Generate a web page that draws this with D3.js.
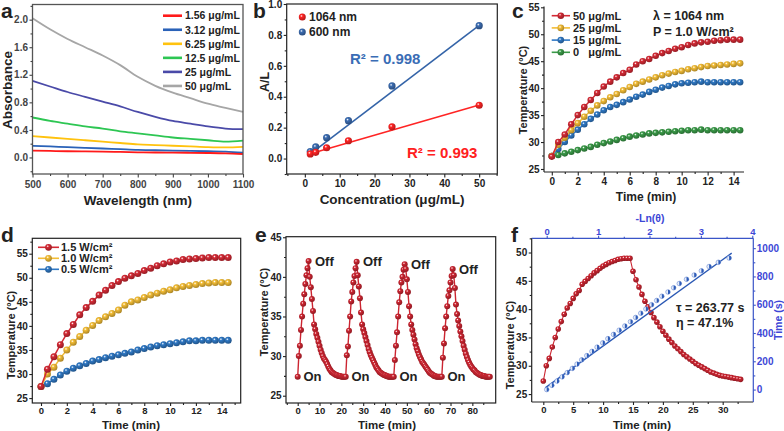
<!DOCTYPE html>
<html><head><meta charset="utf-8">
<script src="https://cdn.jsdelivr.net/npm/d3@7"></script>
<style>body{margin:0;background:#fff}svg{display:block}</style>
</head><body><svg id="chart" width="784" height="431"></svg>
<script>
// ================= DATA =================
// Panel a: absorbance spectra
const wavelengths = [500,550,600,650,700,750,800,850,900,950,1000,1050,1100];
const concLabels = ['1.56 μg/mL','3.12 μg/mL','6.25 μg/mL','12.5 μg/mL','25 μg/mL','50 μg/mL'];
const abs156 = [0.10,0.095,0.09,0.088,0.085,0.08,0.075,0.072,0.07,0.068,0.065,0.06,0.05];
const abs312 = [0.17,0.16,0.15,0.14,0.13,0.12,0.11,0.105,0.10,0.095,0.09,0.085,0.07];
const abs625 = [0.31,0.29,0.27,0.25,0.23,0.21,0.19,0.18,0.17,0.16,0.15,0.145,0.155];
const abs125 = [0.58,0.53,0.49,0.45,0.42,0.38,0.35,0.32,0.29,0.27,0.25,0.23,0.245];
const abs25  = [1.11,1.03,0.95,0.88,0.81,0.74,0.66,0.59,0.53,0.49,0.45,0.42,0.41];
const abs50  = [2.02,1.86,1.72,1.60,1.48,1.34,1.17,1.04,0.94,0.86,0.78,0.72,0.66];

// Panel b: A/L vs concentration
const concB = [1.56,3.12,6.25,12.5,25,50];
const al1064 = [0.03,0.04,0.07,0.115,0.205,0.345];
const al600  = [0.045,0.075,0.135,0.245,0.47,0.86];
const fit1064 = [[1.3,0.03],[50,0.346]];
const fit600  = [[1.3,0.025],[50,0.862]];

// Panel c/d: heating curves
const timeGrid = [0,0.5,1,1.5,2,2.5,3,3.5,4,4.5,5,5.5,6,6.5,7,7.5,8,8.5,9,9.5,10,10.5,11,11.5,12,12.5,13,13.5,14,14.5];
const c50 = [27.3,30.0,31.4,33.3,35.0,36.5,37.8,39.1,40.3,41.2,42.0,42.8,43.4,44.4,45.0,45.4,46.0,46.5,46.9,47.3,47.6,48.0,48.3,48.5,48.6,48.8,48.9,49.0,49.0,49.0];
const c25 = [27.4,29.5,30.8,32.2,33.5,34.7,35.8,36.8,37.6,38.3,38.9,39.6,40.2,40.8,41.2,41.6,42.0,42.4,42.7,43.0,43.2,43.5,43.7,43.9,44.1,44.2,44.3,44.4,44.5,44.6];
const c15 = [27.4,28.7,30.0,31.2,32.3,33.3,34.3,35.1,35.9,36.5,36.9,37.4,37.9,38.4,38.8,39.3,39.7,40.1,40.4,40.7,40.9,41.0,41.1,41.2,41.1,41.1,41.1,41.1,41.1,41.1];
const c0  = [27.4,27.6,27.9,28.2,28.5,28.8,29.1,29.5,29.8,30.1,30.4,30.7,31.0,31.2,31.4,31.6,31.7,31.8,31.9,32.0,32.1,32.2,32.2,32.3,32.2,32.2,32.2,32.2,32.2,32.2];
const cLabels = ['50 μg/mL','25 μg/mL','15 μg/mL','0\u00a0\u00a0\u00a0μg/mL'];

const d15 = [27.4,31.0,33.6,36.1,38.4,40.3,42.3,43.8,45.1,46.4,47.4,48.4,49.2,49.9,50.4,50.9,51.5,52.0,52.5,52.9,53.3,53.5,53.8,53.9,54.0,54.1,54.2,54.2,54.2,54.2];
const d10 = [27.4,30.0,31.4,33.3,35.0,36.6,37.8,39.1,40.1,41.1,41.9,42.6,43.3,44.3,45.0,45.4,45.9,46.4,46.8,47.2,47.5,47.9,48.2,48.4,48.6,48.8,48.9,49.0,49.0,49.0];
const d05 = [27.4,28.0,28.9,29.8,30.6,31.2,31.7,32.2,32.7,33.0,33.4,33.7,34.0,34.3,34.6,35.0,35.3,35.6,35.9,36.1,36.3,36.5,36.7,36.9,36.9,37.0,37.0,37.0,37.0,37.0];
const dLabels = ['1.5 W/cm²','1.0 W/cm²','0.5 W/cm²'];

// Panel e: on/off cycles (0.5 min sampling)
const eStep = 0.5;
const eTemps = [
 // cycle 1
 27.4,30.0,31.3,33.3,35.0,36.6,37.8,39.1,40.2,41.1,42.0,
 40.0,38.7,37.2,35.7,34.0,33.4,32.8,32.3,31.8,31.3,30.8,30.4,30.0,29.7,29.5,29.3,29.0,28.7,28.4,28.2,28.0,27.9,27.8,27.7,27.6,27.6,27.5,27.5,27.5,27.4,27.4,27.4,27.4,
 // cycle 2
 27.4,30.1,31.2,33.2,35.0,36.9,38.1,39.3,40.1,41.1,41.9,
 40.2,38.8,37.3,35.5,34.0,33.4,32.9,32.4,31.9,31.4,30.9,30.5,30.1,29.8,29.5,29.2,28.9,28.6,28.4,28.2,28.0,27.9,27.8,27.7,27.6,27.6,27.5,27.5,27.4,27.4,27.4,27.4,27.4,
 // cycle 3
 27.4,29.5,31.3,33.0,35.0,36.8,38.2,39.3,40.0,40.9,41.6,
 41.0,39.7,38.1,36.3,35.0,34.0,33.3,32.7,32.1,31.5,31.0,30.6,30.2,29.9,29.6,29.3,29.1,28.9,28.7,28.5,28.3,28.1,27.9,27.8,27.7,27.6,27.5,27.5,27.4,27.4,27.4,27.4,27.4,
 // cycle 4
 27.4,29.8,31.6,33.5,35.0,36.3,37.6,38.3,39.3,40.1,41.0,
 40.2,38.6,36.5,35.3,34.5,33.8,33.1,32.5,31.9,31.3,30.8,30.3,29.9,29.5,29.2,28.9,28.7,28.5,28.3,28.2,28.0,27.9,27.8,27.7,27.6,27.6,27.5,27.5,27.5,27.4,27.4,27.4,27.4,
 27.4
];
const eOnTimes = [0,22,44,66];
const eOffTimes = [5,27,49,71];

// Panel f: heating + cooling, and -ln(theta) vs time
const fStep = 0.5;
const fTemps = [27.3,30.0,31.3,33.3,35.0,36.5,37.8,39.1,40.2,41.0,41.9,42.7,43.3,44.4,44.9,45.4,45.9,46.4,46.8,47.2,47.6,47.9,48.2,48.4,48.6,48.8,48.9,49.0,49.0,49.0,
 46.7,45.2,43.9,42.6,41.4,40.4,39.4,38.5,37.7,36.9,36.1,35.4,34.7,34.1,33.5,33.0,32.5,32.0,31.6,31.2,30.8,30.4,30.1,29.8,29.5,29.2,28.9,28.7,28.5,28.3,28.2,28.1,28.0,27.9,27.8,27.7,27.6];
const negLnTheta = [0.00,0.10,0.20,0.30,0.40,0.50,0.59,0.68,0.78,0.88,0.98,1.09,1.19,1.30,1.41,1.52,1.63,1.73,1.83,1.93,2.04,2.14,2.24,2.36,2.47,2.58,2.72,2.87,3.01,3.16,3.34,3.55];
const coolTimeS = [0,30,60,90,120,150,180,210,240,270,300,330,360,390,420,450,480,510,540,570,600,630,660,690,720,750,780,810,840,870,900,930];
const fitF = [[-0.03,12],[3.6,965]];

// ================= DRAWING =================
const FONT = '"Liberation Sans",Arial,Helvetica,sans-serif';
const svg = d3.select('#chart');
const defs = svg.append('defs');
function sphere(id, color){
  const g = defs.append('radialGradient').attr('id',id).attr('cx','38%').attr('cy','35%').attr('r','62%');
  g.append('stop').attr('offset','0%').attr('stop-color','#ffffff');
  g.append('stop').attr('offset','30%').attr('stop-color',color);
  g.append('stop').attr('offset','100%').attr('stop-color',d3.color(color).darker(0.9));
}
const RED='#d42a35', YEL='#f3bd36', BLU='#2f78c4', GRN='#3a9a48';
sphere('sRed',RED); sphere('sYel',YEL); sphere('sBlu',BLU); sphere('sGrn',GRN);
sphere('sRedB','#ff2424'); sphere('sBluB','#3c6db2'); sphere('sRedE','#cc2531');

function axis(orient, scale, pos, majors, minors, fmt, o={}){
  const gen={bottom:d3.axisBottom,left:d3.axisLeft,top:d3.axisTop,right:d3.axisRight}[orient];
  const horiz = orient==='bottom'||orient==='top';
  const tr = horiz?`translate(0,${pos})`:`translate(${pos},0)`;
  const col=o.color||'#222', tcol=o.tcolor||col;
  if(minors && minors.length){
    const g1=svg.append('g').attr('transform',tr).call(gen(scale).tickValues(minors).tickSize(o.minor??2).tickFormat(''));
    g1.select('.domain').remove();
    g1.selectAll('line').attr('stroke',col).attr('stroke-width',1.1);
  }
  const g2=svg.append('g').attr('transform',tr).call(gen(scale).tickValues(majors).tickSize(o.major??4).tickPadding(o.pad??2).tickFormat(fmt));
  g2.select('.domain').remove();
  g2.selectAll('line').attr('stroke',col).attr('stroke-width',1.1);
  g2.selectAll('text').attr('fill',tcol).style('font-family',FONT).style('font-weight','bold').style('font-size',(o.fs||10)+'px');
}
function frame(x0,y0,x1,y1,col,w){
  svg.append('rect').attr('x',x0).attr('y',y0).attr('width',x1-x0).attr('height',y1-y0)
    .attr('fill','none').attr('stroke',col||'#222').attr('stroke-width',w||1.2);
}
function txt(x,y,s,o={}){
  const t=svg.append('text').attr('x',x).attr('y',y).text(s)
    .style('font-family',FONT).style('font-weight','bold').style('font-size',(o.fs||12)+'px')
    .attr('fill',o.fill||'#222');
  if(o.anchor) t.attr('text-anchor',o.anchor);
  if(o.dy) t.attr('dy',o.dy);
  if(o.rot) t.attr('transform',`rotate(${o.rot},${x},${y})`);
  return t;
}
function ticksRange(a,b,s){const r=[];for(let v=a;v<=b+1e-9;v+=s)r.push(+v.toFixed(6));return r;}
const f1 = d3.format('.1f'), f0 = d3.format('d');

// ---------- Panel a ----------
{
  const x=d3.scaleLinear().domain([500,1100]).range([32.5,243]);
  const y=d3.scaleLinear().domain([-0.24,2.22]).range([174,4.5]);
  const series=[abs156,abs312,abs625,abs125,abs25,abs50];
  const cols=['#ff1a1a','#2a62b8','#ffc20e','#2dc653','#4a4aa8','#a6a6a6'];
  const line=d3.line().x((d,i)=>x(wavelengths[i])).y(d=>y(d)).curve(d3.curveMonotoneX);
  series.slice().reverse().forEach((s,k)=>{
    const i=series.length-1-k;
    svg.append('path').attr('d',line(s)).attr('fill','none').attr('stroke',cols[i]).attr('stroke-width',1.8);
  });
  frame(32.5,4.5,243,174,'#555',1.3);
  axis('bottom',x,174,ticksRange(500,1100,100),ticksRange(550,1050,100),f0,{color:'#444',major:3.5,pad:3});
  axis('left',y,32.5,ticksRange(0,2,0.4),ticksRange(-0.2,2.2,0.4),f1,{color:'#444',major:3,pad:1.5});
  concLabels.forEach((lab,i)=>{
    const yy=15.7+i*14.05;
    svg.append('line').attr('x1',163).attr('x2',182).attr('y1',yy).attr('y2',yy).attr('stroke',cols[i]).attr('stroke-width',2.6);
    txt(185,yy,lab,{fs:10.5,dy:'0.36em'});
  });
  txt(138,205,'Wavelength (nm)',{fs:13.5,anchor:'middle'});
  txt(12,90,'Absorbance',{fs:13.5,anchor:'middle',rot:-90});
  txt(1,18,'a',{fs:21});
}

// ---------- Panel b ----------
{
  const x=d3.scaleLinear().domain([-5.2,55.2]).range([286.7,497.3]);
  const y=d3.scaleLinear().domain([-0.1,1.0]).range([174,4]);
  frame(286.7,4,497.3,174,'#222',1.2);
  axis('bottom',x,174,ticksRange(0,50,10),ticksRange(-5,55,10),f0,{major:3.5,pad:2.5});
  axis('left',y,286.7,ticksRange(0,1,0.2),ticksRange(-0.1,0.9,0.2),f1,{major:3,pad:1.5});
  const ln=d3.line().x(d=>x(d[0])).y(d=>y(d[1]));
  svg.append('path').attr('d',ln(fit600)).attr('stroke','#3464a8').attr('stroke-width',1.6).attr('fill','none');
  svg.append('path').attr('d',ln(fit1064)).attr('stroke','#ff2424').attr('stroke-width',1.6).attr('fill','none');
  concB.forEach((c,i)=>{
    svg.append('circle').attr('cx',x(c)).attr('cy',y(al600[i])).attr('r',3.6).attr('fill','url(#sBluB)');
    svg.append('circle').attr('cx',x(c)).attr('cy',y(al1064[i])).attr('r',3.6).attr('fill','url(#sRedB)');
  });
  svg.append('circle').attr('cx',302.3).attr('cy',17).attr('r',3.5).attr('fill','url(#sRedB)');
  svg.append('circle').attr('cx',302.3).attr('cy',32).attr('r',3.5).attr('fill','url(#sBluB)');
  txt(309,17,'1064 nm',{fs:12,dy:'0.36em'});
  txt(309,32,'600 nm',{fs:12,dy:'0.36em'});
  txt(350,64,'R² = 0.998',{fs:15,fill:'#3a6db5'});
  txt(407,158,'R² = 0.993',{fs:15,fill:'#ff2020'});
  txt(392,204,'Concentration (μg/mL)',{fs:13.5,anchor:'middle'});
  txt(264,82,'A/L',{fs:12.5,anchor:'middle',rot:-90,dy:'0.36em'});
  txt(253,18,'b',{fs:21});
}

// ---------- Panel c ----------
{
  const x=d3.scaleLinear().domain([-0.6,14.8]).range([544,744]);
  const y=d3.scaleLinear().domain([24.44,55]).range([172,7.3]);
  svg.append('line').attr('x1',544).attr('x2',744).attr('y1',172).attr('y2',172).attr('stroke','#222').attr('stroke-width',1.2);
  svg.append('line').attr('x1',544).attr('x2',544).attr('y1',6.5).attr('y2',172).attr('stroke','#222').attr('stroke-width',1.2);
  axis('bottom',x,172,ticksRange(0,14,2),ticksRange(1,13,2),f0,{major:3.5,pad:2.5});
  axis('left',y,544,ticksRange(25,55,5),ticksRange(27.5,52.5,5),f0,{major:3,pad:1.5});
  const series=[c50,c25,c15,c0], cols=[RED,YEL,BLU,GRN], grads=['sRed','sYel','sBlu','sGrn'];
  const ln=d3.line().x((d,i)=>x(timeGrid[i])).y(d=>y(d));
  [3,2,1,0].forEach(k=>{
    svg.append('path').attr('d',ln(series[k])).attr('fill','none').attr('stroke',cols[k]).attr('stroke-width',1.5);
    svg.selectAll(null).data(series[k]).enter().append('circle')
      .attr('cx',(d,i)=>x(timeGrid[i])).attr('cy',d=>y(d)).attr('r',3.3).attr('fill',`url(#${grads[k]})`);
  });
  cLabels.forEach((lab,i)=>{
    const yy=15.7+i*12.2;
    svg.append('line').attr('x1',551.7).attr('x2',570).attr('y1',yy).attr('y2',yy).attr('stroke',cols[i]).attr('stroke-width',1.6);
    svg.append('circle').attr('cx',560.8).attr('cy',yy).attr('r',3.3).attr('fill',`url(#${grads[i]})`);
    txt(573,yy,lab,{fs:11,dy:'0.36em'}).style('white-space','pre');
  });
  txt(653,15.7,'λ = 1064 nm',{fs:12.5,dy:'0.36em'});
  txt(653,31.7,'P = 1.0 W/cm²',{fs:12.5,dy:'0.36em'});
  txt(646,201,'Time (min)',{fs:12,anchor:'middle'});
  txt(527,90,'Temperature (°C)',{fs:11,anchor:'middle',rot:-90});
  txt(512,18,'c',{fs:21});
}

// bottom-row axis styling (tight like the reference)
const BOT = {major:3,pad:1,fs:9.5};

// ---------- Panel d ----------
{
  const x=d3.scaleLinear().domain([-0.674,15.47]).range([32.3,240.7]);
  const y=d3.scaleLinear().domain([23.98,58.2]).range([403,238.3]);
  frame(32.3,238.3,240.7,403,'#222',1.2);
  axis('bottom',x,403,ticksRange(0,14,2),ticksRange(1,15,2),f0,BOT);
  axis('left',y,32.3,ticksRange(25,55,5),ticksRange(27.5,57.5,5),f0,{major:3,pad:1.5});
  const series=[d15,d10,d05], cols=[RED,YEL,BLU], grads=['sRed','sYel','sBlu'];
  const ln=d3.line().x((d,i)=>x(timeGrid[i])).y(d=>y(d));
  [2,1,0].forEach(k=>{
    svg.append('path').attr('d',ln(series[k])).attr('fill','none').attr('stroke',cols[k]).attr('stroke-width',1.5);
    svg.selectAll(null).data(series[k]).enter().append('circle')
      .attr('cx',(d,i)=>x(timeGrid[i])).attr('cy',d=>y(d)).attr('r',3.5).attr('fill',`url(#${grads[k]})`);
  });
  dLabels.forEach((lab,i)=>{
    const yy=247.3+i*11;
    svg.append('line').attr('x1',38).attr('x2',59).attr('y1',yy).attr('y2',yy).attr('stroke',cols[i]).attr('stroke-width',1.6);
    svg.append('circle').attr('cx',48.5).attr('cy',yy).attr('r',3.4).attr('fill',`url(#${grads[i]})`);
    txt(61,yy,lab,{fs:11,dy:'0.36em'});
  });
  txt(131,429,'Time (min)',{fs:11.5,anchor:'middle'});
  txt(15,335,'Temperature (°C)',{fs:11,anchor:'middle',rot:-90});
  txt(1,242,'d',{fs:21});
}

// ---------- Panel e ----------
{
  const x=d3.scaleLinear().domain([-5.36,90.7]).range([286,495.7]);
  const y=d3.scaleLinear().domain([24.08,45.07]).range([403,236.7]);
  frame(286,236.7,495.7,403,'#222',1.2);
  axis('bottom',x,403,ticksRange(0,80,10),ticksRange(-5,85,10),f0,BOT);
  axis('left',y,286,ticksRange(25,45,5),ticksRange(27.5,42.5,5),f0,{major:3,pad:1.5});
  const ln=d3.line().x((d,i)=>x(i*eStep)).y(d=>y(d));
  svg.append('path').attr('d',ln(eTemps)).attr('fill','none').attr('stroke','#cc2531').attr('stroke-width',1.4);
  svg.selectAll(null).data(eTemps).enter().append('circle')
    .attr('cx',(d,i)=>x(i*eStep)).attr('cy',d=>y(d)).attr('r',3.0).attr('fill','url(#sRedE)');
  eOffTimes.forEach(t=>{
    const v=eTemps[Math.round(t/eStep)];
    txt(x(t+2.9),y(v),'Off',{fs:13,dy:'0.36em'});
  });
  eOnTimes.forEach(t=>{
    txt(x(t+2.6),y(eTemps[Math.round(t/eStep)]),'On',{fs:13,dy:'0.36em'});
  });
  txt(387,429,'Time (min)',{fs:11.5,anchor:'middle'});
  txt(268,312,'Temperature (°C)',{fs:11,anchor:'middle',rot:-90});
  txt(255,242,'e',{fs:21});
}

// ---------- Panel f ----------
{
  const BL='#3a55c8', BLT='#3d47d6';
  const x=d3.scaleLinear().domain([-1.94,35.12]).range([531.7,753.3]);
  const xt=d3.scaleLinear().domain([-0.292,4.02]).range([531.7,753.3]);
  const y=d3.scaleLinear().domain([23.6,52.51]).range([402,238.3]);
  const yr=d3.scaleLinear().domain([-87.9,1069.7]).range([402,238.3]);
  svg.append('line').attr('x1',531.7).attr('x2',753.3).attr('y1',402).attr('y2',402).attr('stroke','#222').attr('stroke-width',1.2);
  svg.append('line').attr('x1',531.7).attr('x2',531.7).attr('y1',238.3).attr('y2',402).attr('stroke','#222').attr('stroke-width',1.2);
  svg.append('line').attr('x1',531.7).attr('x2',753.3).attr('y1',238.3).attr('y2',238.3).attr('stroke',BL).attr('stroke-width',1.2);
  svg.append('line').attr('x1',753.3).attr('x2',753.3).attr('y1',238.3).attr('y2',402).attr('stroke',BL).attr('stroke-width',1.2);
  axis('bottom',x,402,ticksRange(0,30,5),ticksRange(2.5,32.5,5),f0,BOT);
  axis('left',y,531.7,ticksRange(25,50,5),ticksRange(27.5,52.5,5),f0,{major:3,pad:1.5});
  axis('top',xt,238.3,ticksRange(0,4,1),ticksRange(0.5,3.5,1),f0,{major:2.5,minor:1.5,pad:1,fs:9.5,color:BL,tcolor:BLT});
  axis('right',yr,753.3,ticksRange(0,1000,200),ticksRange(100,900,200),f0,{major:2.5,pad:1,color:BL,tcolor:BLT});
  const ln=d3.line().x((d,i)=>x(i*fStep)).y(d=>y(d));
  svg.append('path').attr('d',ln(fTemps)).attr('fill','none').attr('stroke','#cc2531').attr('stroke-width',1.1);
  svg.selectAll(null).data(fTemps).enter().append('circle')
    .attr('cx',(d,i)=>x(i*fStep)).attr('cy',d=>y(d)).attr('r',2.8).attr('fill','url(#sRedE)');
  const lf=d3.line().x(d=>xt(d[0])).y(d=>yr(d[1]));
  svg.append('path').attr('d',lf(fitF)).attr('fill','none').attr('stroke','#2a58b4').attr('stroke-width',1.3);
  const half=d3.arc().innerRadius(0).outerRadius(2.3).startAngle(0).endAngle(Math.PI);
  negLnTheta.forEach((v,i)=>{
    const cx=xt(v), cy=yr(coolTimeS[i]);
    svg.append('circle').attr('cx',cx).attr('cy',cy).attr('r',2.3).attr('fill','#e6edf9').attr('stroke','#6a8ad4').attr('stroke-width',0.6);
    svg.append('path').attr('d',half()).attr('transform',`translate(${cx},${cy})`).attr('fill','#2e5cb8');
  });
  txt(676,307,'τ = 263.77 s',{fs:12.5,dy:'0.36em'});
  txt(676,322.5,'η = 47.1%',{fs:12.5,dy:'0.36em'});
  txt(650,218.5,'-Ln(θ)',{fs:10.5,anchor:'middle',fill:BLT,dy:'0.36em'});
  txt(778.3,320,'Time (s)',{fs:10.5,anchor:'middle',rot:-90,fill:BLT,dy:'0.36em'});
  txt(642,429,'Time (min)',{fs:11.5,anchor:'middle'});
  txt(514,345,'Temperature (°C)',{fs:11,anchor:'middle',rot:-90});
  txt(511,242,'f',{fs:21});
}
</script></body></html>
